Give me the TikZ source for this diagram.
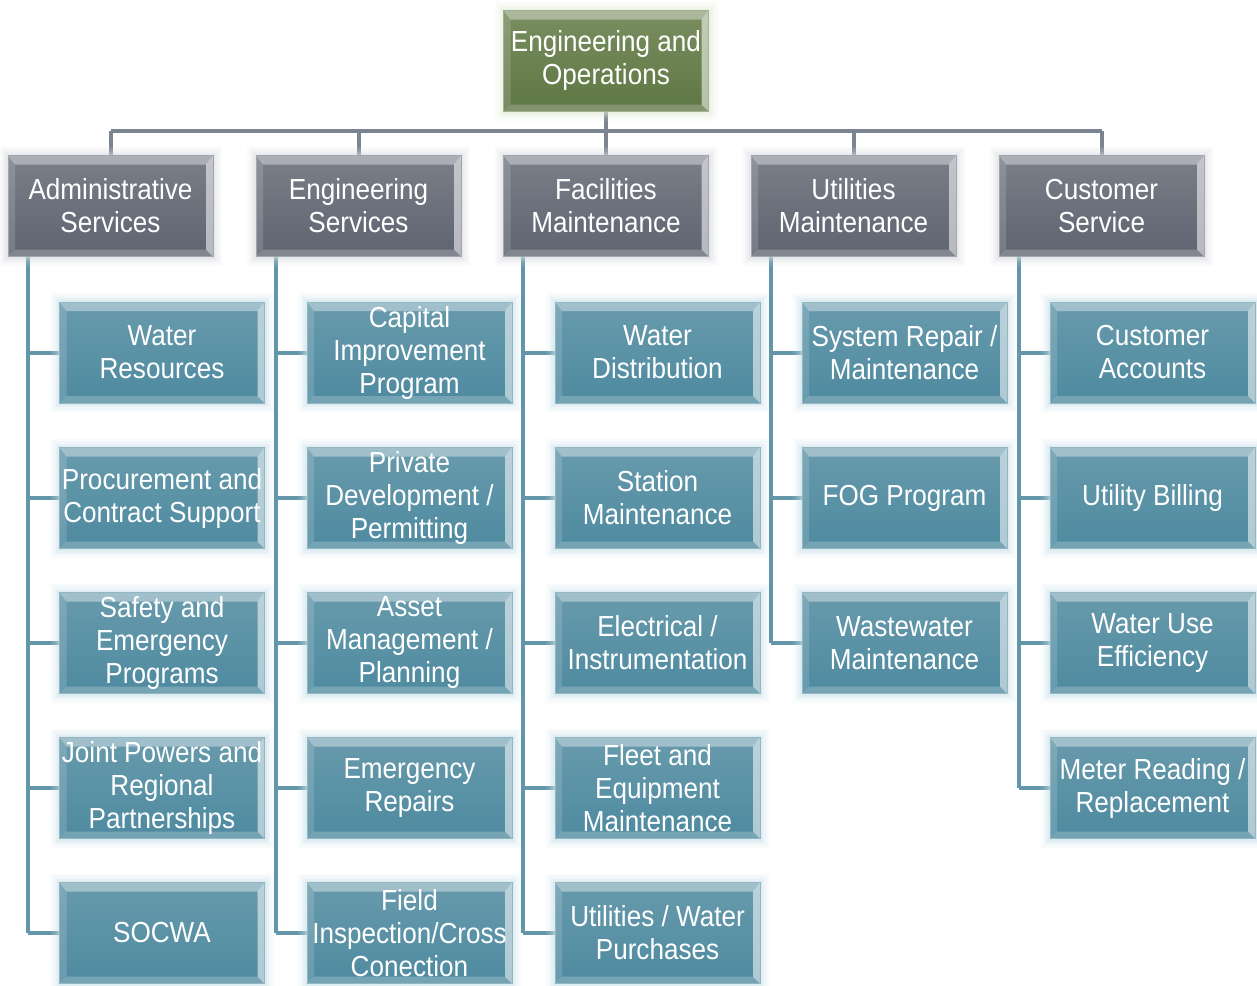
\documentclass[tikz,border=0pt]{standalone}
\usepackage{fontspec}
\setmainfont{Liberation Sans}[FakeStretch=0.9]
\usetikzlibrary{backgrounds}
\definecolor{tealT}{RGB}{104,154,172}
\definecolor{tealM}{RGB}{66,115,135}
\definecolor{tealB}{RGB}{78,138,160}
\definecolor{tealG}{RGB}{200,226,234}
\definecolor{grayT}{RGB}{122,127,137}
\definecolor{grayM}{RGB}{84,90,102}
\definecolor{grayB}{RGB}{94,100,112}
\definecolor{grayG}{RGB}{214,218,224}
\definecolor{greenT}{RGB}{122,142,95}
\definecolor{greenM}{RGB}{84,104,58}
\definecolor{greenB}{RGB}{94,118,68}
\definecolor{greenG}{RGB}{226,236,214}
\definecolor{busC}{RGB}{125,132,145}
\definecolor{lineC}{RGB}{100,150,170}
\tikzset{
  bevel/.style={path picture={
    \fill[white,opacity=.38] (path picture bounding box.north west) -- (path picture bounding box.north east) -- ([xshift=-7pt,yshift=-9pt]path picture bounding box.north east) -- ([xshift=7pt,yshift=-9pt]path picture bounding box.north west) -- cycle;
    \fill[white,opacity=.55] (path picture bounding box.north east) -- (path picture bounding box.south east) -- ([xshift=-7pt,yshift=7pt]path picture bounding box.south east) -- ([xshift=-7pt,yshift=-9pt]path picture bounding box.north east) -- cycle;
    \fill[white,opacity=.15] (path picture bounding box.north west) -- (path picture bounding box.south west) -- ([xshift=7pt,yshift=7pt]path picture bounding box.south west) -- ([xshift=7pt,yshift=-9pt]path picture bounding box.north west) -- cycle;
    \fill[white,opacity=.22] (path picture bounding box.south west) -- (path picture bounding box.south east) -- ([xshift=-7pt,yshift=7pt]path picture bounding box.south east) -- ([xshift=7pt,yshift=7pt]path picture bounding box.south west) -- cycle;
  }},
  boxbase/.style={rectangle, minimum width=205pt, minimum height=101pt, inner sep=0pt,
    align=center, text=white, font=\fontsize{29}{33}\selectfont, bevel},
  glow/.style={
    preaction={draw=#1, line width=18pt, opacity=.12},
    preaction={draw=#1, line width=13pt, opacity=.16},
    preaction={draw=#1, line width=8pt, opacity=.22},
    preaction={draw=#1, line width=4pt, opacity=.3}},
  childbox/.style={boxbase, glow=tealG, top color=tealT, middle color=tealM, bottom color=tealB,
    draw=tealG!60!tealM, line width=0.8pt},
  headbox/.style={boxbase, glow=grayG, top color=grayT, middle color=grayM, bottom color=grayB,
    draw=grayG!60!grayM, line width=0.8pt},
  topbox/.style={boxbase, glow=greenG, top color=greenT, middle color=greenM, bottom color=greenB,
    draw=greenG!55!greenM, line width=0.8pt},
  busline/.style={draw=busC, line width=4pt},
  subline/.style={draw=lineC, line width=4pt},
}
\begin{document}
\begin{tikzpicture}[x=1pt,y=-1pt]
\useasboundingbox (0,0) rectangle (1257,985);
% top
\node[topbox] (top) at (606,61) {Engineering and\\Operations};
% level 2
\node[headbox] (a) at (110.5,206) {Administrative\\Services};
\node[headbox] (b) at (358.5,206) {Engineering\\Services};
\node[headbox] (c) at (606,206) {Facilities\\Maintenance};
\node[headbox] (d) at (853.5,206) {Utilities\\Maintenance};
\node[headbox] (e) at (1101.5,206) {Customer\\Service};
% column A
\node[childbox] (a1) at (162,352.5) {Water\\Resources};
\node[childbox] (a2) at (162,498) {Procurement and\\Contract Support};
\node[childbox] (a3) at (162,643) {Safety and\\Emergency\\Programs};
\node[childbox] (a4) at (162,788) {Joint Powers and\\Regional\\Partnerships};
\node[childbox] (a5) at (162,933) {SOCWA};
% column B
\node[childbox] (b1) at (409.5,352.5) {Capital\\Improvement\\Program};
\node[childbox] (b2) at (409.5,498) {Private\\Development /\\Permitting};
\node[childbox] (b3) at (409.5,643) {Asset\\Management /\\Planning};
\node[childbox] (b4) at (409.5,788) {Emergency\\Repairs};
\node[childbox] (b5) at (409.5,933) {Field\\Inspection/Cross\\Conection};
% column C
\node[childbox] (c1) at (657.5,352.5) {Water\\Distribution};
\node[childbox] (c2) at (657.5,498) {Station\\Maintenance};
\node[childbox] (c3) at (657.5,643) {Electrical /\\Instrumentation};
\node[childbox] (c4) at (657.5,788) {Fleet and\\Equipment\\Maintenance};
\node[childbox] (c5) at (657.5,933) {Utilities / Water\\Purchases};
% column D
\node[childbox] (d1) at (904.5,352.5) {System Repair /\\Maintenance};
\node[childbox] (d2) at (904.5,498) {FOG Program};
\node[childbox] (d3) at (904.5,643) {Wastewater\\Maintenance};
% column E
\node[childbox] (e1) at (1152.5,352.5) {Customer\\Accounts};
\node[childbox] (e2) at (1152.5,498) {Utility Billing};
\node[childbox] (e3) at (1152.5,643) {Water Use\\Efficiency};
\node[childbox] (e4) at (1152.5,788) {Meter Reading /\\Replacement};
% connectors
\coordinate (bus) at (606,131);
\coordinate (av) at ([xshift=20pt]a.south west);
\coordinate (bv) at ([xshift=20pt]b.south west);
\coordinate (cv) at ([xshift=20pt]c.south west);
\coordinate (dv) at ([xshift=20pt]d.south west);
\coordinate (ev) at ([xshift=20pt]e.south west);
\begin{pgfonlayer}{background}
\fill[white] (0,0) rectangle (1257,985);
\draw[busline] (top.south) -- (bus);
\draw[busline] (a.north |- bus) -- (e.north |- bus);
\foreach \n in {a,b,c,d,e} {\draw[busline] (\n.north |- bus) -- (\n.north);}
\draw[subline] (av) -- (av |- a5.west);
\draw[subline] (bv) -- (bv |- b5.west);
\draw[subline] (cv) -- (cv |- c5.west);
\draw[subline] (dv) -- (dv |- d3.west);
\draw[subline] (ev) -- (ev |- e4.west);
\foreach \i in {1,...,5} {
  \draw[subline] (av |- a\i.west) -- (a\i.west);
  \draw[subline] (bv |- b\i.west) -- (b\i.west);
  \draw[subline] (cv |- c\i.west) -- (c\i.west);
}
\foreach \i in {1,2,3} {\draw[subline] (dv |- d\i.west) -- (d\i.west);}
\foreach \i in {1,...,4} {\draw[subline] (ev |- e\i.west) -- (e\i.west);}
\end{pgfonlayer}
\end{tikzpicture}
\end{document}
